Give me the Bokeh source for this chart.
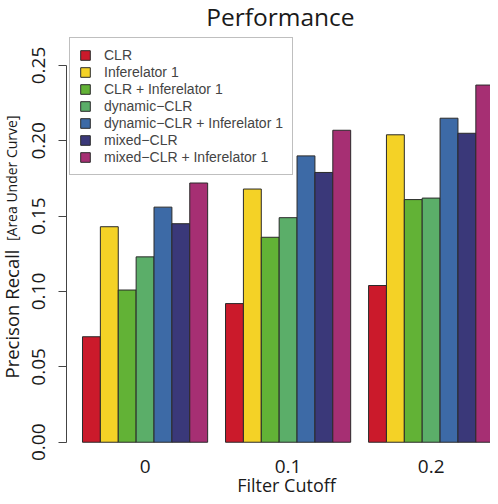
import math
from bokeh.plotting import figure
from bokeh.models import (ColumnDataSource, Range1d, FixedTicker, Legend, LegendItem,
                          Label, PrintfTickFormatter, LinearAxis, Grid)
from bokeh.embed import file_html
from bokeh.resources import INLINE

# ---------------- data ----------------
cutoffs = ["0", "0.1", "0.2"]
methods = ["CLR", "Inferelator 1", "CLR + Inferelator 1", "dynamic\u2212CLR",
           "dynamic\u2212CLR + Inferelator 1", "mixed\u2212CLR", "mixed\u2212CLR + Inferelator 1"]
colors = ["#CB1A2B", "#F4D226", "#62B236", "#5BAE69", "#3D6AA6", "#3A3879", "#A62F73"]
clr = [0.070, 0.092, 0.104]
inferelator = [0.143, 0.168, 0.204]
clr_inf = [0.101, 0.136, 0.161]
dyn_clr = [0.123, 0.149, 0.162]
dyn_clr_inf = [0.156, 0.190, 0.215]
mixed_clr = [0.145, 0.179, 0.205]
mixed_clr_inf = [0.172, 0.207, 0.237]
series = [clr, inferelator, clr_inf, dyn_clr, dyn_clr_inf, mixed_clr, mixed_clr_inf]
y_ticks = [0.0, 0.05, 0.10, 0.15, 0.20, 0.25]

n = len(methods)
# R barplot(beside=TRUE) layout: bar width 1, one empty slot before each group
def bar_center(g, s):
    return 1 + g * (n + 1) + s + 0.5

group_centers = [1 + g * (n + 1) + n / 2 for g in range(len(cutoffs))]
plot_left = 0.08  # left edge of R's plot region (axis position)

p = figure(width=490, height=496, output_backend="svg", toolbar_location=None,
           x_range=Range1d(-3.586, 23.82), y_range=Range1d(-0.0360, 0.2931),
           x_axis_location=None, y_axis_location=None, min_border=0)
p.center = [r for r in p.center if not isinstance(r, Grid)]
p.outline_line_color = None
p.background_fill_color = "white"
p.border_fill_color = "white"

items = []
for s, (name, vals, col) in enumerate(zip(methods, series, colors)):
    src = ColumnDataSource(dict(x=[bar_center(g, s) for g in range(len(cutoffs))], top=vals))
    r = p.vbar(x="x", top="top", bottom=0, width=1, source=src, fill_color=col,
               line_color="#2a2a2a", line_width=1)
    items.append(LegendItem(label=name, renderers=[r]))

legend = Legend(items=items, location=(69, 321), padding=9, margin=0,
                spacing=1, glyph_width=12, glyph_height=12, label_standoff=13,
                label_text_font="Liberation Sans", label_text_font_size="14px",
                label_height=14, border_line_color="#808080", border_line_width=1,
                background_fill_color="white", background_fill_alpha=1.0)
p.add_layout(legend)

# y axis at the edge of the plot region
yax = LinearAxis(fixed_location=plot_left, ticker=FixedTicker(ticks=y_ticks),
                 formatter=PrintfTickFormatter(format="%.2f"), bounds=(0, 0.25))
yax.axis_line_color = "#444444"
yax.major_tick_line_color = "#444444"
yax.major_tick_out = 8
yax.major_tick_in = 0
yax.minor_tick_line_color = None
yax.major_label_orientation = "vertical"
yax.major_label_text_font = "Open Sans"
yax.major_label_text_font_size = "19px"
yax.major_label_text_color = "#1a1a1a"
yax.major_label_standoff = 13
p.add_layout(yax, "left")

# x axis (labels only) at zero
xax = LinearAxis(fixed_location=0, ticker=FixedTicker(ticks=group_centers))
xax.major_label_overrides = {c: t for c, t in zip(group_centers, cutoffs)}
xax.axis_line_color = None
xax.major_tick_line_color = None
xax.minor_tick_line_color = None
xax.major_label_text_font = "Open Sans"
xax.major_label_text_font_size = "19px"
xax.major_label_text_color = "#1a1a1a"
xax.major_label_standoff = 12
p.add_layout(xax, "below")

# titles
p.add_layout(Label(x=12.07, y=0.2822, text="Performance", text_align="center",
                   text_baseline="alphabetic", text_font="Open Sans",
                   text_font_size="24.5px", text_color="#1a1a1a"))
p.add_layout(Label(x=12.41, y=-0.0281, text="Filter Cutoff", text_align="center",
                   text_baseline="alphabetic", text_font="Open Sans",
                   text_font_size="18px", text_color="#1a1a1a"))
p.add_layout(Label(x=-2.99, y=0.0423, text="Precison Recall", angle=math.pi / 2,
                   text_align="left", text_baseline="alphabetic", text_font="Open Sans",
                   text_font_size="18.5px", text_color="#1a1a1a"))
p.add_layout(Label(x=-2.99, y=0.1335, text="[Area Under Curve]", angle=math.pi / 2,
                   text_align="left", text_baseline="alphabetic", text_font="Open Sans",
                   text_font_size="14px", text_color="#1a1a1a"))

open("out.html", "w").write(file_html(p, INLINE))
